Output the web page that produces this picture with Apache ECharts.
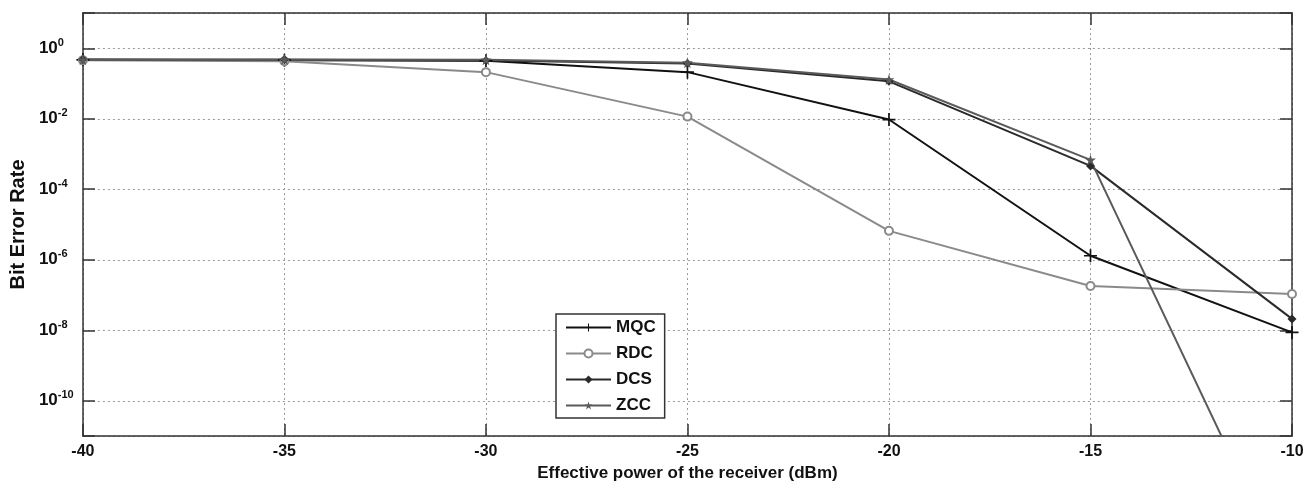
<!DOCTYPE html>
<html>
<head>
<meta charset="utf-8">
<script src="https://cdn.jsdelivr.net/npm/echarts@6/dist/echarts.min.js"></script>
<style>
html,body{margin:0;padding:0;background:#fff;}
#c{width:1314px;height:487px;}
</style>
</head>
<body>
<div id="c"></div>
<script>
// ---- data ----
var powerDbm = [-40, -35, -30, -25, -20, -15, -10];
var seriesNames = ['MQC', 'RDC', 'DCS', 'ZCC'];
var berMQC = [0.47, 0.46, 0.44, 0.21, 0.0095, 1.3e-6, 8.7e-9];
var berRDC = [0.46, 0.43, 0.21, 0.0115, 6.6e-6, 1.8e-7, 1.07e-7];
var berDCS = [0.48, 0.47, 0.45, 0.37, 0.115, 4.6e-4, 2.1e-8];
var berZCC = [0.47, 0.48, 0.47, 0.39, 0.13, 6.8e-4, 6e-16];
var xTicks = [-40, -35, -30, -25, -20, -15, -10];
var yTickExponents = [0, -2, -4, -6, -8, -10];

function pairs(ys) { return powerDbm.map(function (x, i) { return [x, ys[i]]; }); }

var FONT = 'Liberation Sans, Arial, sans-serif';
var plusPath = 'path://M-1,-0.13H1V0.13H-1Z M-0.13,-1H0.13V1H-0.13Z';
var starPath = 'path://M0,-1 L0.2245,-0.309 L0.951,-0.309 L0.363,0.118 L0.588,0.809 L0,0.382 L-0.588,0.809 L-0.363,0.118 L-0.951,-0.309 L-0.2245,-0.309 Z';

var chart = echarts.init(document.getElementById('c'), null, {renderer: 'canvas'});

function yLabel(v) {
  var e = Math.round(Math.log(v) / Math.LN10);
  if (Math.abs(Math.log(v) / Math.LN10 - e) > 1e-6) return '';
  if (yTickExponents.indexOf(e) < 0) return '';
  return '{b|10}{s|' + e + '}';
}

var axisLineStyle = {color: '#333', width: 1.5};
var gridLineStyle = {color: '#9a9a9a', width: 1, type: [2, 3]};

var option = {
  backgroundColor: '#fff',
  animation: false,
  grid: {left: 82, right: 22, top: 13, bottom: 49, containLabel: false},
  legend: {
    orient: 'vertical',
    left: 556, top: 314,
    padding: [5, 9, 4, 9],
    itemWidth: 45, itemHeight: 10, itemGap: 9,
    backgroundColor: '#fff',
    borderColor: '#333', borderWidth: 1.5,
    textStyle: {fontFamily: FONT, fontWeight: 'bold', fontSize: 17, color: '#111'},
    data: seriesNames
  },
  xAxis: [{
    type: 'value', min: -40, max: -10, interval: 5,
    axisLine: {lineStyle: axisLineStyle},
    axisTick: {inside: true, length: 12, lineStyle: axisLineStyle},
    axisLabel: {fontFamily: FONT, fontWeight: 'bold', fontSize: 16, color: '#111', margin: 8,
      formatter: function (v) { return xTicks.indexOf(v) >= 0 ? String(v) : ''; }},
    splitLine: {show: true, lineStyle: gridLineStyle},
    name: 'Effective power of the receiver (dBm)',
    nameLocation: 'middle', nameGap: 29,
    nameTextStyle: {fontFamily: FONT, fontWeight: 'bold', fontSize: 17, color: '#111'}
  }, {
    type: 'value', position: 'top', min: -40, max: -10, interval: 5,
    axisLine: {lineStyle: axisLineStyle},
    axisTick: {inside: true, length: 12, lineStyle: axisLineStyle},
    axisLabel: {show: false}, splitLine: {show: false}
  }],
  yAxis: [{
    type: 'log', logBase: 100, min: 1e-11, max: 10, splitNumber: 6,
    axisLine: {lineStyle: axisLineStyle},
    axisTick: {inside: true, length: 12, lineStyle: axisLineStyle},
    axisLabel: {
      formatter: yLabel, align: 'left', margin: 44, color: '#111',
      rich: {
        b: {fontFamily: FONT, fontWeight: 'bold', fontSize: 17, color: '#111'},
        s: {fontFamily: FONT, fontWeight: 'bold', fontSize: 11, color: '#111', padding: [0, 0, 11, 0]}
      }
    },
    splitLine: {show: true, lineStyle: gridLineStyle},
    name: 'Bit Error Rate', nameLocation: 'middle', nameGap: 41,
    nameTextStyle: {fontFamily: FONT, fontWeight: 'bold', fontSize: 20, color: '#111'}
  }, {
    type: 'log', logBase: 100, min: 1e-11, max: 10, splitNumber: 6, position: 'right',
    axisLine: {lineStyle: axisLineStyle},
    axisTick: {inside: true, length: 12, lineStyle: axisLineStyle},
    axisLabel: {show: false}, splitLine: {show: false}
  }],
  series: [{
    name: 'MQC', type: 'line', data: pairs(berMQC), clip: true,
    symbol: plusPath, symbolSize: 13,
    lineStyle: {color: '#111', width: 2}, itemStyle: {color: '#111'}
  }, {
    name: 'RDC', type: 'line', data: pairs(berRDC), clip: true,
    symbol: 'emptyCircle', symbolSize: 8,
    lineStyle: {color: '#8a8a8a', width: 2}, itemStyle: {color: '#8a8a8a', borderWidth: 1.5}
  }, {
    name: 'DCS', type: 'line', data: pairs(berDCS), clip: true,
    symbol: 'diamond', symbolSize: 9,
    lineStyle: {color: '#2a2a2a', width: 2}, itemStyle: {color: '#2a2a2a'}
  }, {
    name: 'ZCC', type: 'line', data: pairs(berZCC), clip: true,
    symbol: starPath, symbolSize: 11,
    lineStyle: {color: '#5a5a5a', width: 2}, itemStyle: {color: '#5a5a5a'}
  }]
};
chart.setOption(option);
</script>
</body>
</html>
